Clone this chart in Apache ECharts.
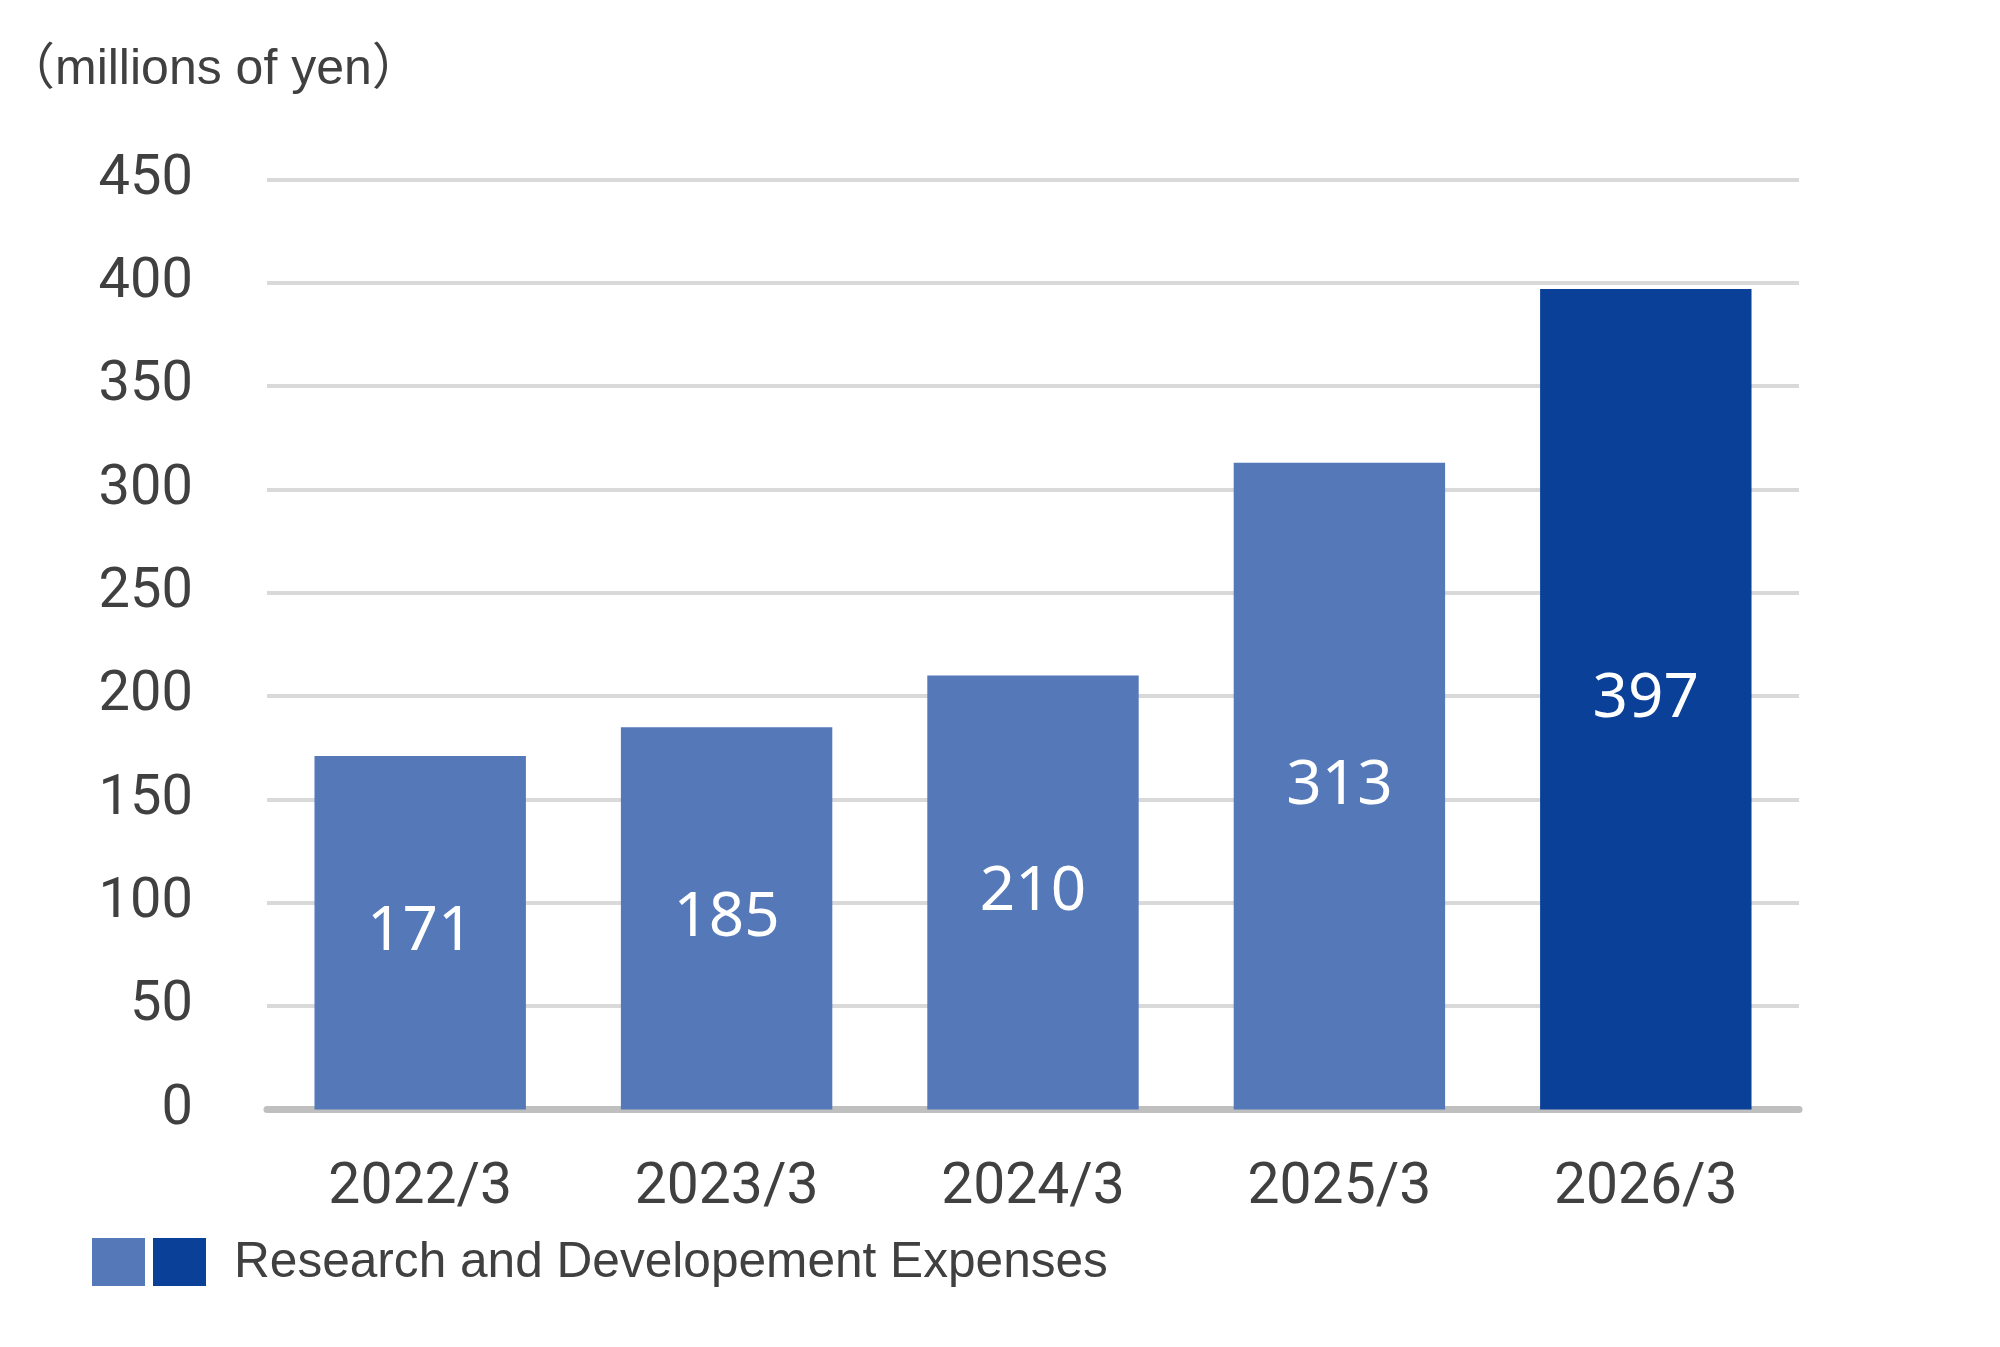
<!DOCTYPE html>
<html>
<head>
<meta charset="utf-8">
<script src="https://cdn.jsdelivr.net/npm/echarts@6/dist/echarts.min.js"></script>
<style>
  html, body { margin: 0; padding: 0; background: #fff; }
  #chart { width: 2000px; height: 1347px; }
</style>
</head>
<body>
<div id="chart"></div>
<script>
// data
var categories = ['2022/3', '2023/3', '2024/3', '2025/3', '2026/3'];
var values = [171, 185, 210, 313, 397];
var yTicks = [0, 50, 100, 150, 200, 250, 300, 350, 400, 450];
var seriesName = 'Research and Developement Expenses';
var unitText = '（millions of yen）';

var lightBlue = '#5579b8';
var darkBlue = '#0b4099';
var textGray = '#404040';

var chart = echarts.init(document.getElementById('chart'));
var option = {
    animation: false,
    backgroundColor: '#fff',
    title: {
        text: unitText,
        left: 0,
        top: 40,
        textStyle: {
            fontFamily: 'Liberation Sans, Noto Sans CJK JP',
            fontSize: 50,
            fontWeight: 'normal',
            color: textGray
        }
    },
    grid: {
        left: 267,
        right: 201,
        top: 179.5,
        bottom: 237.5,
        containLabel: false
    },
    xAxis: {
        type: 'category',
        data: categories,
        axisTick: { show: false },
        axisLine: { lineStyle: { color: '#bfbfbf', width: 7 } },
        axisLabel: {
            margin: 51,
            fontFamily: 'Roboto',
            fontSize: 57,
            color: textGray
        }
    },
    yAxis: {
        type: 'value',
        min: yTicks[0],
        max: yTicks[yTicks.length - 1],
        interval: yTicks[1] - yTicks[0],
        axisLine: { show: false },
        axisTick: { show: false },
        splitLine: { lineStyle: { color: '#d9d9d9', width: 4 } },
        axisLabel: {
            margin: 74,
            fontFamily: 'Roboto',
            fontSize: 56,
            color: textGray
        }
    },
    series: [{
        name: seriesName,
        type: 'bar',
        data: values,
        barWidth: '69%',
        itemStyle: {
            color: function (p) {
                return p.dataIndex === values.length - 1 ? darkBlue : lightBlue;
            }
        },
        label: {
            show: true,
            position: 'inside',
            fontFamily: 'Noto Sans',
            fontSize: 62,
            color: '#fff'
        }
    }],
    graphic: [
        { type: 'rect', shape: { x: 92, y: 1238, width: 53, height: 48 }, style: { fill: lightBlue } },
        { type: 'rect', shape: { x: 153, y: 1238, width: 53, height: 48 }, style: { fill: darkBlue } },
        {
            type: 'text', x: 234, y: 1263,
            style: {
                text: seriesName,
                fontFamily: 'Liberation Sans',
                fontSize: 49.6,
                fill: textGray,
                verticalAlign: 'middle'
            }
        }
    ]
};
chart.setOption(option);
</script>
</body>
</html>
